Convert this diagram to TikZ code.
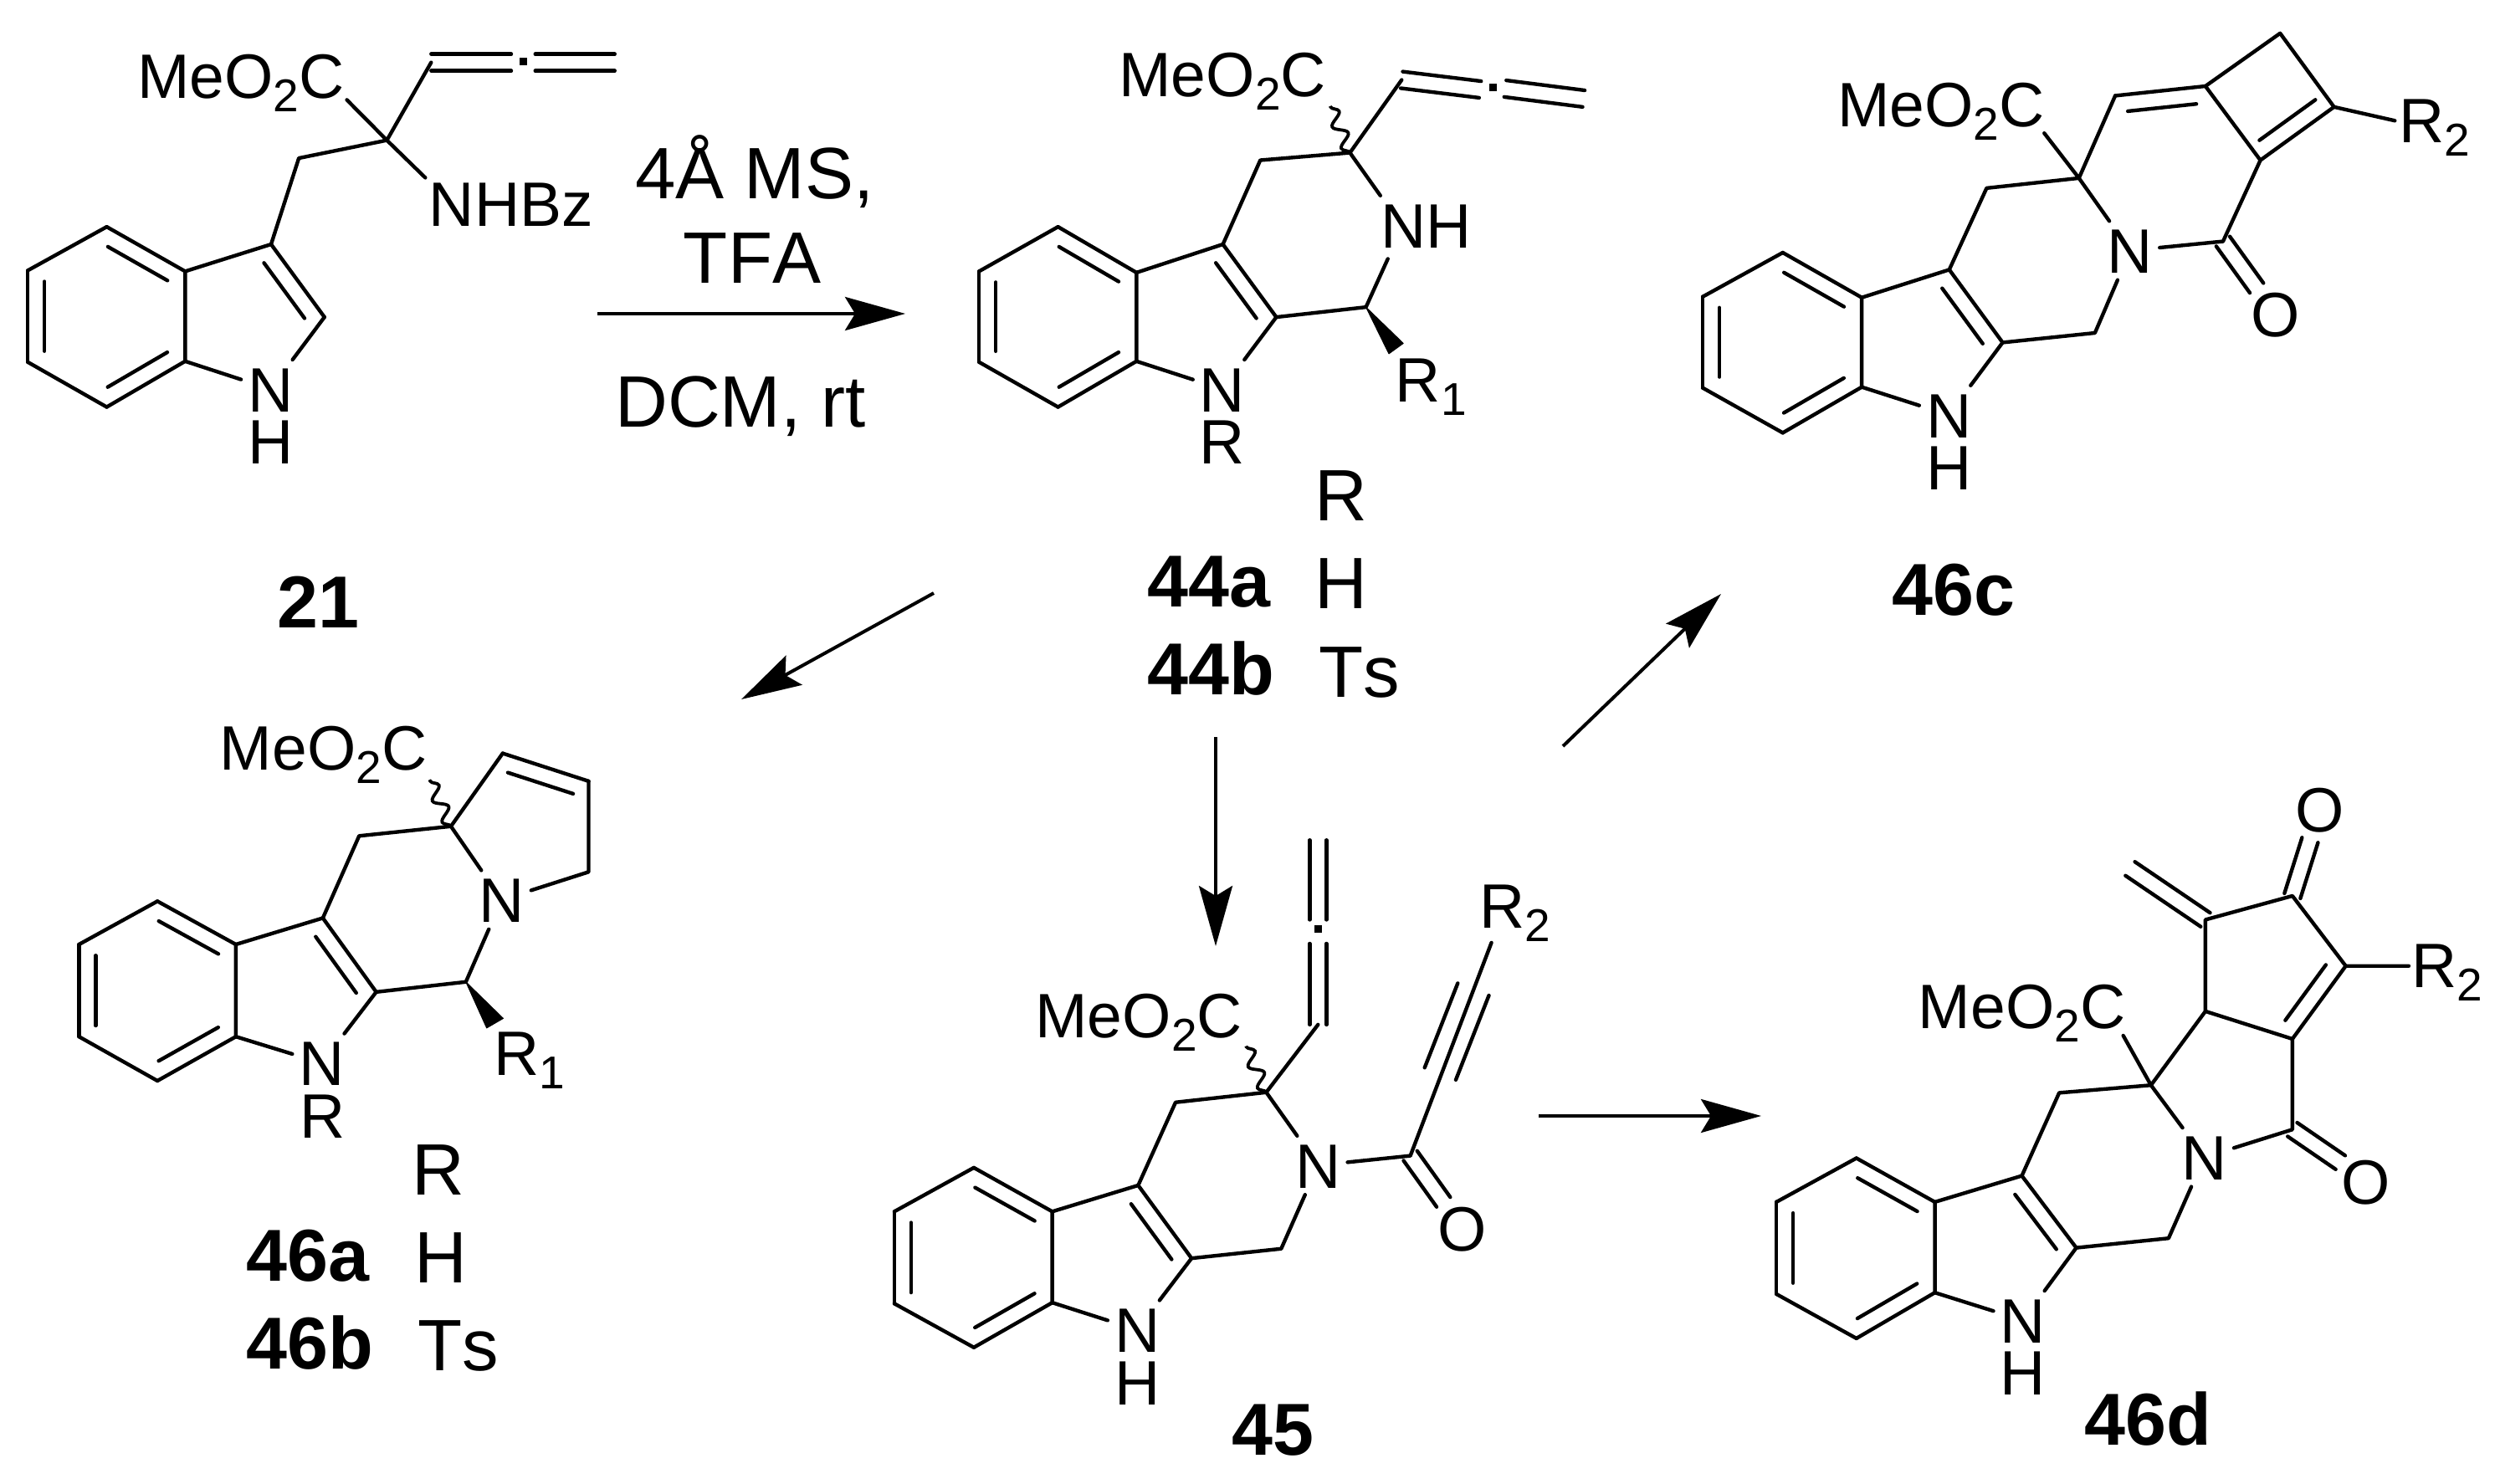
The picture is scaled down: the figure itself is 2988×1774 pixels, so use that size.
\documentclass[tikz,border=0pt]{standalone}
\usepackage{fontspec}
\setmainfont[Kerning=Off]{Liberation Sans}
\usetikzlibrary{calc,arrows.meta,decorations.pathmorphing}
\newcommand\atomf{\fontsize{75pt}{75pt}\selectfont}
\newcommand\bigf{\fontsize{87pt}{87pt}\selectfont}
\newcommand\boldf{\fontsize{88pt}{88pt}\selectfont\bfseries}
\newcommand\csub[1]{\raisebox{-16pt}{\fontsize{55pt}{55pt}\selectfont #1}}
\tikzset{
  bond/.style={line width=4.4pt,line cap=round,line join=round},
  wavy/.style={line width=3.8pt,decorate,decoration={snake,amplitude=7.5pt,segment length=28pt}},
  wedgefill/.style={fill=black,draw=black,line width=1pt,line join=round},
  atom/.style={font=\atomf,inner sep=8pt,text height=54pt,text depth=0pt},
  hat/.style={atom,inner sep=0pt},
  lab/.style={font=\atomf,anchor=base west,inner sep=0pt},
  tabl/.style={font=\bigf,anchor=base west,inner sep=0pt},
  cond/.style={font=\bigf,anchor=base,inner sep=0pt},
  cpd/.style={font=\boldf,anchor=base west,inner sep=0pt},
  alldot/.style={fill=black,inner sep=0pt,minimum size=9pt},
  rxn/.style={line width=4pt,-{Stealth[length=72pt,width=40pt,inset=12pt]}},
}
% inner line of a ring double bond; #3 = side (90 or -90)
\newcommand\dbo[3]{\draw[bond] (#1)--(#2);
  \draw[bond] ($(#1)!.12!(#2)!20pt!#3:(#2)$)--($(#2)!.12!(#1)!20pt!-#3:(#1)$);}
% symmetric double bond
\newcommand\dbs[3]{\draw[bond] ($(#1)!#3!90:(#2)$)--($(#2)!#3!-90:(#1)$);
  \draw[bond] ($(#1)!#3!-90:(#2)$)--($(#2)!#3!90:(#1)$);}
% indole skeleton: #11..#16 benzene, #17,#18 pyrrole carbons, #1N nitrogen
\newcommand\indole[1]{
  \dbo{#11}{#12}{-90}\dbo{#13}{#14}{-90}\dbo{#15}{#16}{-90}
  \draw[bond] (#12)--(#13) (#14)--(#15) (#16)--(#11);
  \dbo{#17}{#18}{-90}
  \draw[bond] (#12)--(#17) (#13)--(#1N) (#18)--(#1N);}
\begin{document}
\begin{tikzpicture}[x=1pt,y=-1pt]
\useasboundingbox (0,0) rectangle (2988,1774);

% ---------- 21
\begin{scope}[x=.6378pt,y=-.4975pt]
\coordinate (a1) at (200,545); \coordinate (a2) at (347,652); \coordinate (a3) at (347,868);
\coordinate (a4) at (200,978); \coordinate (a5) at (52,870); \coordinate (a6) at (52,650);
\coordinate (a7) at (508,587); \coordinate (a8) at (608,762);
\node[atom] (aN) at (507,935) {N};
\node[hat] (aH) at (507,1060) {H};
\indole{a}
\coordinate (ab) at (560,380); \coordinate (ac) at (725,337);
\coordinate (aal1) at (808,150); \coordinate (aal2) at (958,150);
\coordinate (aal3) at (1003,150); \coordinate (aal4) at (1152,150);
\coordinate (ame) at (650,240); \coordinate (anh) at (797,427);
\draw[bond] (a7)--(ab)--(ac)--(aal1) (ac)--(ame) (ac)--(anh);
\dbs{aal1}{aal2}{10pt}\dbs{aal3}{aal4}{10pt}
\node[alldot] (adot) at (980,148) {};
\node[lab] (aMe) at (257,237) {MeO\csub{2}C};
\node[lab] (aNH) at (804,543) {NHBz};
\node[cpd] (a21) at (520,1508) {21};
\end{scope}

% ---------- conditions and arrows
\node[cond] (c1) at (902,237) {4Å MS,};
\node[cond] (c2) at (899,338) {TFA};
\node[cond] (c3) at (885,510) {DCM, rt};
\coordinate (r1a) at (714,375); \coordinate (r1b) at (1082,375);
\coordinate (r2a) at (1116,709); \coordinate (r2b) at (886,836);
\coordinate (r3a) at (1453,881); \coordinate (r3b) at (1453,1131);
\coordinate (r4a) at (1868,892); \coordinate (r4b) at (2057,710);
\coordinate (r5a) at (1839,1334); \coordinate (r5b) at (2105,1334);
\draw[rxn] (r1a)--(r1b);
\draw[rxn] (r2a)--(r2b);
\draw[rxn] (r3a)--(r3b);
\draw[rxn] (r4a)--(r4b);
\draw[rxn] (r5a)--(r5b);

% ---------- 44
\begin{scope}[x=.6378pt,y=-.4975pt,xshift=1100pt]
\coordinate (b1) at (258,545); \coordinate (b2) at (405,655); \coordinate (b3) at (405,868);
\coordinate (b4) at (258,978); \coordinate (b5) at (110,870); \coordinate (b6) at (110,652);
\coordinate (b7) at (567,587); \coordinate (b8) at (667,762);
\node[atom] (bN) at (566,935) {N};
\node[hat] (bR) at (566,1060) {R};
\indole{b}
\coordinate (bc1) at (637,385); \coordinate (bc2) at (805,367); \coordinate (bc3) at (835,738);
\coordinate (bn1) at (862,470); \coordinate (bn2) at (876,622);
\coordinate (bw1) at (905,825); \coordinate (bw2) at (878,850);
\coordinate (bme) at (768,255);
\coordinate (bal1) at (902,192); \coordinate (bal2) at (1049,215);
\coordinate (bal3) at (1096,213); \coordinate (bal4) at (1243,237);
\draw[bond] (b7)--(bc1)--(bc2)--(bn1) (bn2)--(bc3)--(b8) (bc2)--(bal1);
\draw[wavy] (bc2)--(bme);
\fill[wedgefill] (bc3)--(bw1)--(bw2)--cycle;
\dbs{bal1}{bal2}{10pt}\dbs{bal3}{bal4}{10pt}
\node[alldot] (bdot) at (1073,210) {};
\node[lab] (bMe) at (372,233) {MeO\csub{2}C};
\node[lab] (bNH) at (862,595) {NH};
\node[lab] (bR1) at (890,965) {R\csub{1}};
\node[tabl] (bt0) at (739,1252) {R};
\node[cpd] (bta) at (425,1458) {44a};
\node[tabl] (bt1) at (739,1463) {H};
\node[cpd] (btb) at (425,1670) {44b};
\node[tabl] (bt2) at (747,1675) {Ts};
\end{scope}

% ---------- 46c
\begin{scope}[x=.6378pt,y=-.4975pt,xshift=2000pt]
\coordinate (c1) at (205,607); \coordinate (c2) at (353,715); \coordinate (c3) at (353,930);
\coordinate (c4) at (205,1040); \coordinate (c5) at (55,932); \coordinate (c6) at (55,713);
\coordinate (c7) at (517,648); \coordinate (c8) at (617,823);
\node[atom] (cN) at (516,997) {N};
\node[hat] (cH) at (516,1122) {H};
\indole{c}
\coordinate (cc1) at (587,452); \coordinate (cc2) at (760,428); \coordinate (cc3) at (790,800);
\node[atom] (cN2) at (856,602) {N};
\coordinate (cco) at (1030,580); \coordinate (coe) at (1093,692);
\node[atom] (cO) at (1128,755) {O};
\coordinate (cd1) at (1100,385); \coordinate (cd2) at (1238,257); \coordinate (cd3) at (1137,80);
\coordinate (cd4) at (997,207); \coordinate (cd5) at (828,230);
\coordinate (cme) at (695,320); \coordinate (crr) at (1352,290);
\draw[bond] (c7)--(cc1)--(cc2) (c8)--(cc3)--(cN2) (cc2)--(cN2)--(cco)--(cd1);
\dbs{cco}{coe}{10pt}
\dbo{cd1}{cd2}{90}
\draw[bond] (cd2)--(cd3)--(cd4)--(cd1) (cd5)--(cc2)--(cme) (cd2)--(crr);
\dbo{cd4}{cd5}{90}
\node[lab] (cMe) at (307,305) {MeO\csub{2}C};
\node[lab] (cR2) at (1360,342) {R\csub{2}};
\node[cpd] (clab) at (410,1478) {46c};
\end{scope}

% ---------- 46a/b
\begin{scope}[x=.6378pt,y=-.574pt,yshift=-780pt]
\coordinate (d1) at (295,518); \coordinate (d2) at (442,608); \coordinate (d3) at (442,800);
\coordinate (d4) at (295,892); \coordinate (d5) at (148,800); \coordinate (d6) at (148,608);
\coordinate (d7) at (605,553); \coordinate (d8) at (705,707);
\node[atom] (dN) at (603,855) {N};
\node[hat] (dR) at (605,965) {R};
\indole{d}
\coordinate (dc1) at (673,382); \coordinate (dc2) at (845,362); \coordinate (dc3) at (873,686);
\node[atom] (dN2) at (940,515) {N};
\coordinate (dd1) at (942,210); \coordinate (dd2) at (1103,268); \coordinate (dd3) at (1103,457);
\coordinate (dw1) at (943,762); \coordinate (dw2) at (912,782);
\coordinate (dme) at (805,265);
\draw[bond] (d7)--(dc1)--(dc2)--(dN2)--(dc3)--(d8) (dc2)--(dd1) (dd2)--(dd3)--(dN2);
\dbo{dd1}{dd2}{-90}
\draw[wavy] (dc2)--(dme);
\fill[wedgefill] (dc3)--(dw1)--(dw2)--cycle;
\node[lab] (dMe) at (412,245) {MeO\csub{2}C};
\node[lab] (dR1) at (925,880) {R\csub{1}};
\node[tabl] (dt0) at (772,1130) {R};
\node[cpd] (dta) at (462,1310) {46a};
\node[tabl] (dt1) at (776,1313) {H};
\node[cpd] (dtb) at (462,1492) {46b};
\node[tabl] (dt2) at (783,1495) {Ts};
\end{scope}

% ---------- 45
\begin{scope}[x=.6378pt,y=-.570pt,xshift=1000pt,yshift=-880pt]
\coordinate (e1) at (257,905); \coordinate (e2) at (404,997); \coordinate (e3) at (404,1188);
\coordinate (e4) at (257,1282); \coordinate (e5) at (108,1190); \coordinate (e6) at (108,997);
\coordinate (e7) at (565,942); \coordinate (e8) at (665,1095);
\node[atom] (eN) at (563,1245) {N};
\node[hat] (eH) at (563,1355) {H};
\indole{e}
\coordinate (ec1) at (635,768); \coordinate (ec2) at (805,747); \coordinate (ec3) at (833,1075);
\node[atom] (eN2) at (902,900) {N};
\coordinate (eco) at (1075,880); \coordinate (eoe) at (1137,977);
\node[atom] (eO) at (1172,1032) {O};
\coordinate (ert) at (1227,433); \coordinate (et1) at (1131,708); \coordinate (et2) at (1193,531);
\coordinate (eal1) at (902,605); \coordinate (eal2) at (902,435);
\coordinate (eal3) at (902,385); \coordinate (eal4) at (902,218);
\coordinate (eme) at (767,650);
\draw[bond] (e7)--(ec1)--(ec2)--(eN2)--(ec3)--(e8) (eN2)--(eco)--(ert) (ec2)--(eal1);
\dbs{eco}{eoe}{10pt}
\dbs{et1}{et2}{20pt}
\dbs{eal1}{eal2}{10pt}\dbs{eal3}{eal4}{10pt}
\node[alldot] (edot) at (902,405) {};
\draw[wavy] (ec2)--(eme);
\node[lab] (eMe) at (372,632) {MeO\csub{2}C};
\node[lab] (eR2) at (1205,402) {R\csub{2}};
\node[cpd] (elab) at (740,1508) {45};
\end{scope}

% ---------- 46d
\begin{scope}[x=.6378pt,y=-.570pt,xshift=2000pt,yshift=-880pt]
\coordinate (f1) at (343,885); \coordinate (f2) at (490,977); \coordinate (f3) at (490,1167);
\coordinate (f4) at (343,1263); \coordinate (f5) at (193,1170); \coordinate (f6) at (193,977);
\coordinate (f7) at (653,922); \coordinate (f8) at (755,1073);
\node[atom] (fN) at (655,1225) {N};
\node[hat] (fH) at (655,1335) {H};
\indole{f}
\coordinate (fc1) at (723,748); \coordinate (fc2) at (895,732); \coordinate (fc3) at (928,1053);
\node[atom] (fN2) at (995,883) {N};
\coordinate (fco) at (1160,825); \coordinate (foe) at (1250,894);
\node[atom] (fO1) at (1297,935) {O};
\coordinate (fe1) at (1160,635); \coordinate (fe2) at (1260,482); \coordinate (fe3) at (997,577);
\coordinate (fe4) at (997,385); \coordinate (fe5) at (1160,335);
\coordinate (fot) at (1193,218);
\node[atom] (fO2) at (1212,153) {O};
\coordinate (fch) at (856,278); \coordinate (frr) at (1378,482); \coordinate (fme) at (843,628);
\draw[bond] (f7)--(fc1)--(fc2)--(fN2)--(fc3)--(f8) (fN2)--(fco)--(fe1)--(fe3)--(fc2)--(fme)
  (fe3)--(fe4)--(fe5)--(fe2)--(frr);
\dbo{fe1}{fe2}{90}
\dbs{fco}{foe}{10pt}
\dbs{fe5}{fot}{10pt}
\dbs{fe4}{fch}{10pt}
\node[lab] (fMe) at (459,613) {MeO\csub{2}C};
\node[lab] (fR2) at (1383,527) {R\csub{2}};
\node[cpd] (flab) at (770,1487) {46d};
\end{scope}
\end{tikzpicture}
\end{document}
